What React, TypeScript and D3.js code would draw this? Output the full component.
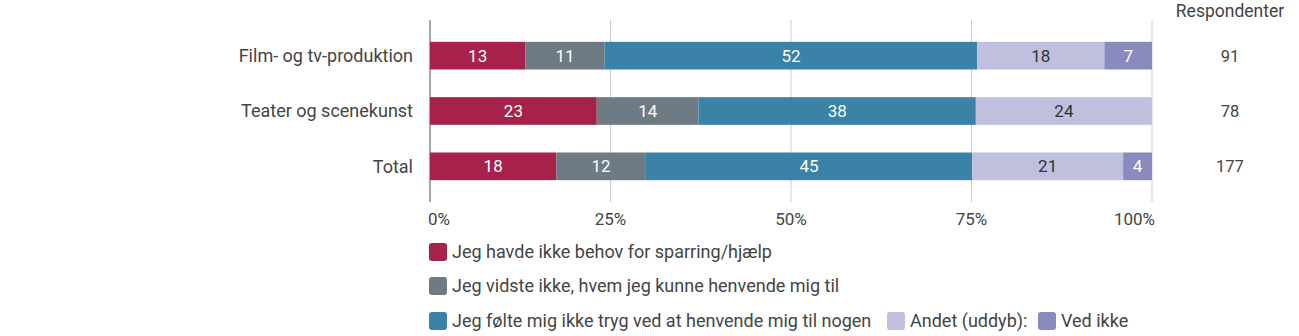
import React from "react";
import * as d3 from "d3";

const categories = ["Film- og tv-produktion", "Teater og scenekunst", "Total"];
const seriesNames = [
  "Jeg havde ikke behov for sparring/hjælp",
  "Jeg vidste ikke, hvem jeg kunne henvende mig til",
  "Jeg følte mig ikke tryg ved at henvende mig til nogen",
  "Andet (uddyb):",
  "Ved ikke",
];
const noBehov = [13.2, 23.1, 17.5];
const vidsteIkke = [11.0, 14.1, 12.4];
const ikkeTryg = [51.6, 38.4, 45.2];
const andet = [17.6, 24.4, 20.9];
const vedIkke = [6.6, 0, 4.0];
const respondents = [91, 78, 177];
const ticks = [0, 25, 50, 75, 100];

const colors = ["#A6224B", "#6E7B84", "#3A82A7", "#BFC0DE", "#8A8ABF"];
const textColors = ["#fff", "#fff", "#fff", "#333", "#fff"];

export default function App() {
  const W = 1299, H = 336;
  const font = "Roboto, 'Noto Sans', sans-serif";
  const x = d3.scaleLinear().domain([0, 100]).range([430, 1152]);
  const y = d3.scaleBand().domain(categories).range([28, 194]).paddingInner(0.5).paddingOuter(0.25);
  const series = [noBehov, vidsteIkke, ikkeTryg, andet, vedIkke];
  const data = categories.map((c, i) => {
    const row: any = { cat: c };
    series.forEach((s, j) => (row["s" + j] = s[i]));
    return row;
  });
  const stack = d3.stack<any>().keys(series.map((_, j) => "s" + j))(data);

  const legendRows = [
    [{ i: 0, x: 429 }],
    [{ i: 1, x: 429 }],
    [{ i: 2, x: 429 }, { i: 3, x: 887 }, { i: 4, x: 1038 }],
  ];
  const legendY = [252, 286, 321];

  return (
    <svg width={W} height={H} style={{ position: "absolute", left: 0, top: 0, fontFamily: font }}>
      {ticks.map((t) => (
        <line key={t} x1={x(t)} x2={x(t)} y1={20} y2={202} stroke={t === 0 ? "#888" : "#ccc"} strokeWidth={t === 0 ? 1.5 : 1} />
      ))}
      {stack.map((layer, j) => (
        <g key={j}>
          {layer.map((d, i) => {
            const w = x(d[1]) - x(d[0]);
            if (w <= 0) return null;
            const cy = (y(categories[i]) as number) + y.bandwidth() / 2;
            return (
              <g key={i}>
                <rect x={x(d[0])} y={y(categories[i])} width={w} height={y.bandwidth()} fill={colors[j]} />
                <text x={x(d[0]) + w / 2} y={cy} dy="0.36em" textAnchor="middle" fontSize={17} fill={textColors[j]}>
                  {Math.round(series[j][i])}
                </text>
              </g>
            );
          })}
        </g>
      ))}
      {categories.map((c, i) => {
        const cy = (y(c) as number) + y.bandwidth() / 2;
        return (
          <g key={c}>
            <text x={413} y={cy} dy="0.36em" textAnchor="end" fontSize={18} fill="#444">{c}</text>
            <text x={1230} y={cy} dy="0.36em" textAnchor="middle" fontSize={16.5} fill="#444">{respondents[i]}</text>
          </g>
        );
      })}
      <text x={1230} y={11} dy="0.36em" textAnchor="middle" fontSize={17.5} fill="#444">Respondenter</text>
      {ticks.map((t, k) => (
        <text key={t} x={k === 0 ? x(t) - 2 : k === ticks.length - 1 ? x(t) + 3 : x(t)} y={219} dy="0.36em"
          textAnchor={k === 0 ? "start" : k === ticks.length - 1 ? "end" : "middle"} fontSize={17} fill="#444">
          {t}%
        </text>
      ))}
      {legendRows.map((row, r) =>
        row.map((it) => (
          <g key={it.i}>
            <rect x={it.x} y={legendY[r] - 9} width={18} height={18} rx={3} fill={colors[it.i]} />
            <text x={it.x + 23} y={legendY[r]} dy="0.36em" fontSize={18} fill="#444">{seriesNames[it.i]}</text>
          </g>
        ))
      )}
    </svg>
  );
}
